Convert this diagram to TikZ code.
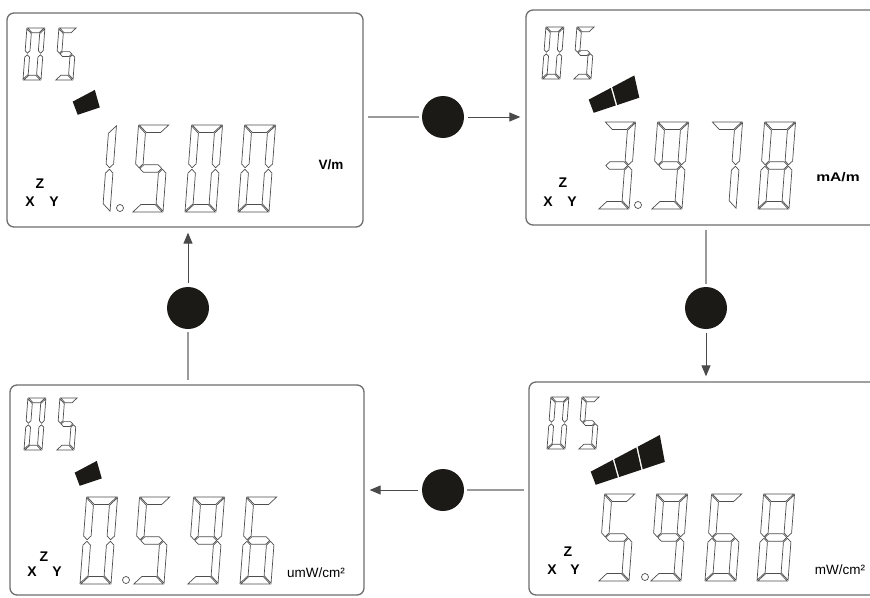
\documentclass[tikz,border=0pt]{standalone}
\usepackage{fontspec}
\setmainfont{Liberation Sans}
\usetikzlibrary{arrows.meta}

\definecolor{panelgray}{HTML}{6E6E6E}
\definecolor{segline}{HTML}{4E4E4E}
\definecolor{feedgray}{HTML}{9A9A9A}
\definecolor{leadgray}{HTML}{4A4A4A}
\definecolor{knobblack}{HTML}{1C1A17}

% gap between neighbouring segment outlines
\def\sgE{0.8}

% the seven segments of one LCD digit, in local units (v grows downwards)
\newcommand\lcdsega{\draw[seg] (\sgE,0) -- (\sgW-\sgE,0) -- (\sgW-\sgT-\sgE,\sgT) -- (\sgT+\sgE,\sgT) -- cycle;}
\newcommand\lcdsegb{\draw[seg] (\sgW,\sgE) -- (\sgW,\sgM-\sgT/2-\sgE) -- (\sgW-\sgT/2,\sgM-\sgE) -- (\sgW-\sgT,\sgM-\sgT/2-\sgE) -- (\sgW-\sgT,\sgT+\sgE) -- cycle;}
\newcommand\lcdsegc{\draw[seg] (\sgW,\sgM+\sgT/2+\sgE) -- (\sgW,\sgH-\sgE) -- (\sgW-\sgT,\sgH-\sgT-\sgE) -- (\sgW-\sgT,\sgM+\sgT/2+\sgE) -- (\sgW-\sgT/2,\sgM+\sgE) -- cycle;}
\newcommand\lcdsegd{\draw[seg] (\sgE,\sgH) -- (\sgW-\sgE,\sgH) -- (\sgW-\sgT-\sgE,\sgH-\sgT) -- (\sgT+\sgE,\sgH-\sgT) -- cycle;}
\newcommand\lcdsege{\draw[seg] (0,\sgM+\sgT/2+\sgE) -- (\sgT/2,\sgM+\sgE) -- (\sgT,\sgM+\sgT/2+\sgE) -- (\sgT,\sgH-\sgT-\sgE) -- (0,\sgH-\sgE) -- cycle;}
\newcommand\lcdsegf{\draw[seg] (0,\sgE) -- (\sgT,\sgT+\sgE) -- (\sgT,\sgM-\sgT/2-\sgE) -- (\sgT/2,\sgM-\sgE) -- (0,\sgM-\sgT/2-\sgE) -- cycle;}
\newcommand\lcdsegg{\draw[seg] (\sgT/2+\sgE,\sgM) -- (\sgT+\sgE,\sgM-\sgT/2) -- (\sgW-\sgT-\sgE,\sgM-\sgT/2) -- (\sgW-\sgT/2-\sgE,\sgM) -- (\sgW-\sgT-\sgE,\sgM+\sgT/2) -- (\sgT+\sgE,\sgM+\sgT/2) -- cycle;}

% #1 left x at the foot, #2 top y, #3 width, #4 height, #5 stroke, #6 slant, #7 lit segments
\newcommand\lcddigit[7]{%
  \begin{scope}[shift={({#1+#6*#4},#2)}, xslant=#6]
    \def\sgW{#3}\def\sgH{#4}\def\sgT{#5}%
    \pgfmathsetmacro\sgM{#4/2}%
    \edef\sglist{#7}%
    \foreach \sgname in \sglist {\csname lcdseg\sgname\endcsname}%
  \end{scope}}

\newcommand\bigdigit[3]{\lcddigit{#1}{#2}{31}{87}{7.5}{0.075}{#3}}
\newcommand\smalldigit[3]{\lcddigit{#1}{#2}{18}{52}{4.8}{0.075}{#3}}

\def\dzero{a,b,c,d,e,f}
\def\done{b,c}
\def\dthree{a,b,g,c,d}
\def\dfive{a,f,g,c,d}
\def\dsix{a,f,g,e,c,d}
\def\dseven{a,b,c}
\def\deight{a,b,c,d,e,f,g}
\def\dnine{a,b,c,d,f,g}

% signal-strength wedge: #1,#2 top-left corner, #3 number of blocks
\newcommand\lcdbar[3]{%
  \begin{scope}[shift={(#1,#2)}]
    \foreach \bk in {1,...,#3}{%
      \pgfmathsetmacro\ba{23.5*(\bk-1)+0.7}%
      \pgfmathsetmacro\bb{23.5*\bk-0.7}%
      \fill[knobblack] (\ba,-0.53*\ba) -- (\bb,-0.53*\bb) -- (\bb+5,13-0.33*\bb) -- (\ba+5,13-0.33*\ba) -- cycle;}
  \end{scope}}

\tikzset{
  seg/.style={draw=segline, line width=0.7pt, line join=miter, fill=white},
  panel/.style={draw=panelgray, line width=1.3pt, rounded corners=7pt, inner sep=0pt},
  knob/.style={circle, fill=knobblack, minimum size=42pt, inner sep=0pt},
  feed/.style={draw=feedgray, line width=1.4pt, shorten <=4pt, shorten >=3pt},
  lead/.style={draw=leadgray, line width=1pt, shorten <=4pt, shorten >=5pt,
    -{Triangle[length=11pt,width=9pt]}},
  unit/.style={inner sep=0pt, text=black},
  axis/.style={inner sep=0pt, font=\fontsize{14}{14}\selectfont\bfseries}
}

\begin{document}
\begin{tikzpicture}[x=1pt,y=-1pt]
\clip (0,0) rectangle (870,597);
\fill[white] (0,0) rectangle (870,597);

% the four display panels
\node[panel, minimum width=356pt, minimum height=214pt] (tl) at (185,120) {};
\node[panel, minimum width=356pt, minimum height=215pt] (tr) at (704,117.5) {};
\node[panel, minimum width=354pt, minimum height=210pt] (bl) at (187,490) {};
\node[panel, minimum width=356pt, minimum height=213pt] (br) at (707,488.5) {};

% push buttons between the panels
\node[knob] (k1) at (443,117) {};
\node[knob] (k2) at (706,308) {};
\node[knob] (k3) at (443,490) {};
\node[knob] (k4) at (188,308) {};

\draw[feed] (k1 -| tl.east) -- (k1.west);
\draw[lead] (k1.east) -- (k1 -| tr.west);
\draw[feed] (k2 |- tr.south) -- (k2.north);
\draw[lead] (k2.south) -- (k2 |- br.north);
\draw[feed] (k3 -| br.west) -- (k3.east);
\draw[lead] (k3.west) -- (k3 -| bl.east);
\draw[feed] (k4 |- bl.north) -- (k4.south);
\draw[lead] (k4.north) -- (k4 |- tl.south);

% ---- panel: V/m
\smalldigit{23}{28}{\dzero}
\smalldigit{55}{28}{\dfive}
\lcdbar{72}{102}{1}
\bigdigit{79}{125}{\done}
\bigdigit{132}{125}{\dfive}
\bigdigit{185}{125}{\dzero}
\bigdigit{238}{125}{\dzero}
\draw[seg] (120,208) circle (3.5);
\node[unit, font=\fontsize{13.5}{13.5}\selectfont\bfseries] (u1) at (331,165) {V/m};
\node[axis] (z1) at (40,184) {Z};
\node[axis] (x1) at (30,202) {X};
\node[axis] (y1) at (54,202) {Y};

% ---- panel: mA/m
\smalldigit{542}{27}{\dzero}
\smalldigit{573}{27}{\dfive}
\lcdbar{588}{100}{2}
\bigdigit{598}{122}{\dthree}
\bigdigit{651}{122}{\dnine}
\bigdigit{705}{122}{\dseven}
\bigdigit{758}{122}{\deight}
\draw[seg] (638,205) circle (3.5);
\node[unit, font=\fontsize{12.5}{12.5}\selectfont\bfseries] (u2) at (838,177) {\scalebox{1.25}[1]{mA/m}};
\node[axis] (z2) at (563,183) {Z};
\node[axis] (x2) at (548,202) {X};
\node[axis] (y2) at (572,202) {Y};

% ---- panel: umW/cm2
\smalldigit{24}{398}{\dzero}
\smalldigit{56}{398}{\dfive}
\lcdbar{74}{473}{1}
\bigdigit{80}{497}{\dzero}
\bigdigit{133}{497}{\dfive}
\bigdigit{187}{497}{\dnine}
\bigdigit{240}{497}{\dsix}
\draw[seg] (126,580) circle (3.5);
\node[unit, font=\fontsize{13.5}{13.5}\selectfont] (u3) at (316,573) {umW/cm²};
\node[axis] (z3) at (44,557) {Z};
\node[axis] (x3) at (32,572) {X};
\node[axis] (y3) at (57,572) {Y};

% ---- panel: mW/cm2
\smalldigit{547}{397}{\dzero}
\smalldigit{578}{397}{\dfive}
\lcdbar{590}{472}{3}
\bigdigit{598}{494}{\dfive}
\bigdigit{650}{494}{\dnine}
\bigdigit{705}{494}{\dsix}
\bigdigit{757}{494}{\deight}
\draw[seg] (645,577) circle (3.5);
\node[unit, font=\fontsize{13.5}{13.5}\selectfont] (u4) at (840,570) {mW/cm²};
\node[axis] (z4) at (568,552) {Z};
\node[axis] (x4) at (552,570) {X};
\node[axis] (y4) at (575,570) {Y};
\end{tikzpicture}
\end{document}
